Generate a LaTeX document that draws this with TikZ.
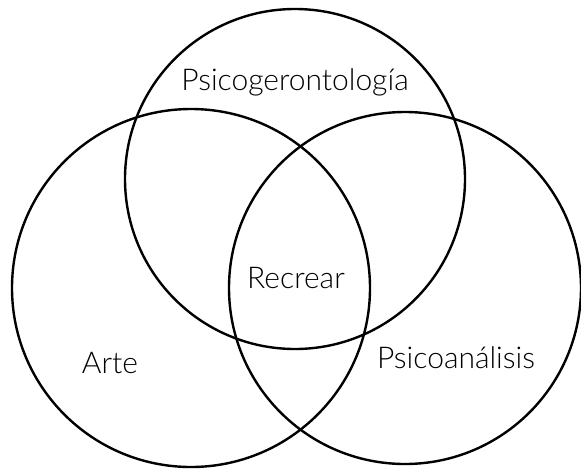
\documentclass[tikz,border=0pt]{standalone}
\usepackage{fontspec}
\setmainfont{Lato}[UprightFont={* Light}]
\usetikzlibrary{positioning}

\begin{document}
\begin{tikzpicture}[x=1pt,y=-1pt,
		set/.style={draw, circle, line width=2.4pt, inner sep=0pt},
		lbl/.style={font=\fontsize{30}{34}\selectfont}]
		\useasboundingbox (0,0) rectangle (581,469);
		% the three sets
		\node[set, minimum size=340pt] (psico) at (295,179) {};
		\node[set, minimum size=358pt] (arte) at (191,288) {};
		\node[set, minimum size=352pt] (anal) at (405,288) {};
		% labels
		\node[lbl] (psicolbl) at (295,82) {Psicogerontología};
		\node[lbl] (recrear) at (296,278) {Recrear};
		\node[lbl] (artelbl) at (110,363) {Arte};
		\node[lbl] (anallbl) at (456,358) {Psicoanálisis};
		
		\end{tikzpicture}
\end{document}
